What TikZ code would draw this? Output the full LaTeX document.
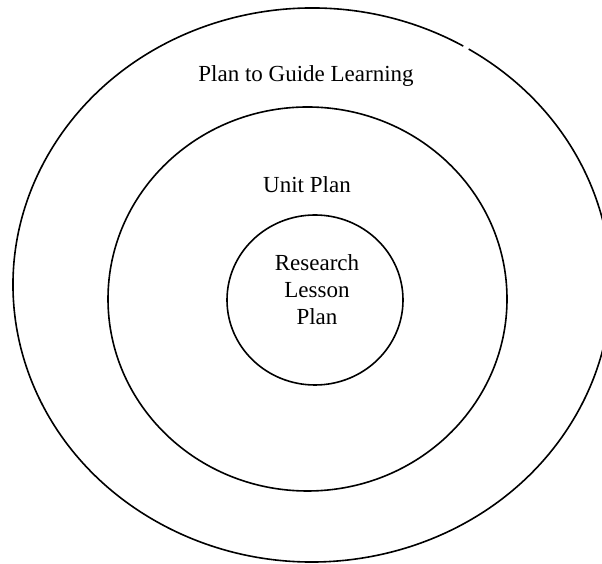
\documentclass[tikz,border=0pt]{standalone}
\usepackage{fontspec}
\setmainfont{Liberation Serif}
\begin{document}
\begin{tikzpicture}[x=1pt,y=1pt,
  ring/.style={line width=1.6pt},
  lbl/.style={font=\fontsize{23}{27}\selectfont, inner sep=0pt}]
\useasboundingbox (0,0) rectangle (602,564);
\clip (0,0) rectangle (602,564);
% outer ellipse, with its small gap at the top right
\draw[ring] (312,279) ++(59.6:299 and 277) arc[start angle=59.6, end angle=418.4, x radius=299, y radius=277];
% middle ellipse
\draw[ring] (307.5,265) ellipse[x radius=199.5, y radius=192];
% inner ellipse
\draw[ring] (315,264) ellipse[x radius=88, y radius=85];
\node[lbl, anchor=base] (outer) at (306,482) {Plan to Guide Learning};
\node[lbl, anchor=base] (unit) at (307,371) {Unit Plan};
\node[lbl, align=center] (lesson) at (317,274.6) {Research\\Lesson\\Plan};
\end{tikzpicture}
\end{document}
